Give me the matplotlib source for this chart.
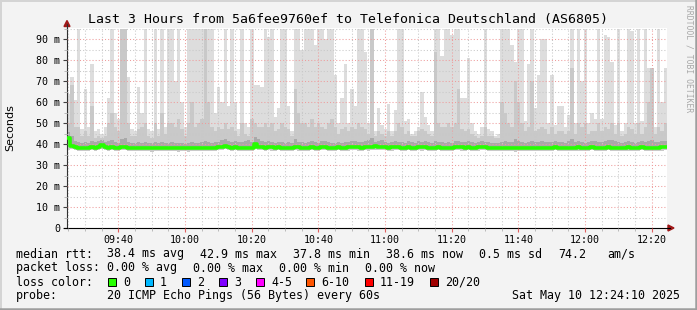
import matplotlib
matplotlib.use('Agg')
import matplotlib.pyplot as plt
from matplotlib.lines import Line2D
from matplotlib.patches import Rectangle, Polygon
import numpy as np

W, H = 697, 310
BG = '#f3f3f3'
MONO = 'DejaVu Sans Mono'

# first sample starts at 09:24.6 (minutes after 09:00), one sample per minute
start_min = 24.6

ping_max = [
    64, 72, 61, 95, 47, 66, 48, 78, 46, 47,
    45, 48, 62, 95, 55, 52, 95, 95, 72, 47,
    46, 67, 55, 95, 47, 46, 95, 47, 95, 48,
    95, 95, 70, 95, 60, 48, 95, 95, 95, 95,
    95, 95, 95, 95, 55, 67, 60, 95, 58, 95,
    60, 47, 95, 50, 48, 95, 68, 68, 67, 95,
    91, 95, 53, 57, 95, 95, 58, 46, 95, 95,
    85, 95, 95, 95, 87, 95, 95, 90, 95, 95,
    73, 50, 62, 78, 50, 66, 58, 95, 95, 84,
    50, 95, 46, 57, 49, 47, 59, 46, 56, 95,
    95, 51, 52, 45, 46, 48, 65, 53, 49, 46,
    95, 95, 82, 95, 95, 92, 95, 95, 62, 62,
    81, 50, 46, 45, 48, 95, 47, 46, 44, 45,
    95, 95, 95, 87, 79, 95, 95, 51, 78, 95,
    57, 73, 90, 90, 50, 73, 49, 58, 58, 48,
    54, 95, 50, 95, 70, 95, 50, 55, 52, 95,
    52, 92, 91, 79, 49, 95, 46, 50, 95, 94,
    50, 95, 51, 95, 76, 76, 48, 95, 60, 76,
]

ping_p90 = [
    50, 68, 48, 48, 44, 46, 44, 58, 43, 44,
    43, 44, 50, 55, 48, 46, 95, 95, 50, 44,
    44, 47, 48, 50, 44, 43, 50, 44, 55, 45,
    50, 50, 48, 52, 47, 44, 50, 60, 48, 50,
    52, 95, 60, 48, 46, 48, 47, 50, 47, 48,
    46, 44, 50, 45, 44, 52, 50, 48, 48, 50,
    48, 50, 46, 47, 50, 48, 47, 44, 66, 55,
    50, 50, 48, 52, 48, 50, 48, 47, 50, 52,
    48, 45, 47, 48, 46, 48, 47, 50, 48, 47,
    45, 95, 44, 46, 45, 44, 46, 44, 46, 50,
    48, 45, 46, 44, 44, 46, 47, 46, 45, 44,
    84, 50, 48, 48, 50, 48, 50, 66, 47, 46,
    47, 45, 44, 43, 44, 48, 44, 44, 43, 43,
    60, 55, 50, 48, 70, 60, 50, 46, 48, 70,
    46, 47, 48, 47, 45, 48, 45, 46, 46, 45,
    46, 76, 45, 50, 48, 50, 45, 46, 46, 50,
    46, 48, 47, 50, 45, 50, 44, 45, 48, 47,
    45, 50, 45, 48, 60, 76, 45, 48, 46, 50,
]

ping_q3 = [
    45.5, 44.0, 41.5, 41.0, 40.5, 41.0, 40.5, 41.5, 41.0, 41.5,
    42.0, 41.0, 41.5, 42.0, 41.0, 40.5, 42.5, 43.0, 41.0, 40.5,
    40.5, 41.0, 40.5, 41.0, 40.5, 40.5, 41.0, 40.5, 41.0, 40.5,
    40.5, 41.0, 40.5, 40.5, 40.5, 40.0, 40.5, 41.0, 40.5, 40.5,
    41.0, 41.5, 41.0, 40.5, 41.0, 41.0, 42.0, 42.5, 41.5, 41.0,
    41.5, 41.0, 41.0, 41.5, 42.0, 41.0, 43.5, 42.5, 41.5, 41.0,
    41.5, 41.0, 40.5, 41.0, 41.0, 40.5, 41.0, 40.5, 42.5, 41.0,
    41.0, 40.5, 41.0, 41.5, 41.0, 40.5, 41.5, 41.5, 41.0, 40.5,
    40.5, 41.0, 40.5, 41.0, 41.0, 41.5, 41.5, 41.0, 41.0, 41.5,
    42.0, 43.0, 41.0, 41.5, 42.0, 41.0, 40.5, 41.0, 41.5, 41.0,
    41.0, 40.5, 41.5, 41.0, 40.5, 41.5, 41.0, 41.5, 41.0, 40.5,
    41.5, 41.0, 41.0, 40.5, 41.0, 40.5, 41.5, 41.5, 41.0, 41.0,
    41.5, 41.0, 40.5, 41.0, 41.5, 41.0, 41.0, 40.5, 40.5, 40.5,
    41.0, 41.5, 41.0, 41.0, 42.5, 41.5, 41.0, 40.5, 41.0, 41.5,
    41.0, 41.0, 41.5, 41.0, 41.0, 41.0, 41.5, 41.0, 41.0, 40.5,
    41.5, 42.5, 41.0, 41.5, 41.0, 40.5, 41.0, 41.5, 41.5, 41.0,
    41.0, 41.5, 42.0, 42.0, 41.5, 41.0, 40.5, 41.0, 41.5, 41.0,
    40.5, 41.0, 41.5, 41.0, 41.5, 42.0, 41.0, 41.0, 41.5, 41.5,
]

ping_min = [
    37.2, 37.4, 37.0, 36.8, 36.6, 36.5, 36.7, 37.0, 36.8, 37.1,
    37.5, 37.0, 36.9, 37.1, 36.7, 36.8, 37.2, 37.0, 36.7, 36.6,
    36.8, 36.5, 36.6, 36.7, 36.6, 36.4, 36.5, 36.6, 36.8, 36.6,
    36.5, 36.6, 36.5, 36.4, 36.5, 36.5, 36.4, 36.5, 36.5, 36.6,
    36.5, 36.6, 36.8, 36.6, 36.8, 37.0, 37.1, 37.4, 37.2, 36.8,
    37.0, 36.7, 36.8, 36.6, 36.7, 36.6, 37.4, 37.2, 37.0, 36.8,
    37.1, 36.9, 36.7, 37.0, 36.8, 36.8, 36.6, 36.6, 37.0, 36.9,
    36.7, 36.5, 36.8, 37.0, 36.8, 36.6, 37.0, 37.1, 36.8, 36.5,
    36.7, 37.0, 36.8, 36.7, 36.9, 37.1, 37.2, 36.9, 36.8, 37.0,
    36.9, 37.2, 37.3, 37.1, 37.2, 37.0, 36.8, 36.9, 37.2, 37.1,
    36.7, 36.8, 37.0, 36.8, 36.7, 37.2, 36.9, 37.1, 36.8, 36.6,
    36.8, 37.0, 36.8, 36.5, 36.7, 36.6, 37.0, 37.2, 36.9, 36.8,
    37.0, 36.8, 36.6, 36.9, 37.2, 37.0, 36.7, 36.8, 36.5, 36.6,
    36.5, 36.6, 36.5, 36.5, 36.4, 36.5, 36.6, 36.5, 36.7, 36.6,
    36.8, 36.6, 36.5, 36.7, 36.6, 36.8, 37.0, 36.8, 36.7, 36.5,
    36.8, 36.7, 36.5, 36.9, 36.7, 36.6, 36.8, 37.0, 36.7, 36.6,
    36.5, 36.8, 37.0, 36.7, 36.8, 36.6, 36.5, 36.7, 36.9, 36.6,
    36.5, 36.7, 37.0, 36.8, 36.6, 36.8, 36.5, 36.7, 36.9, 37.1,
]

median_rtt = [
    42.9, 39.0, 38.6, 38.3, 38.0, 37.9, 38.1, 38.4, 38.2, 38.6,
    39.3, 38.5, 38.3, 38.6, 38.2, 38.3, 38.7, 38.5, 38.2, 38.1,
    38.3, 38.0, 38.0, 38.2, 38.1, 37.9, 37.9, 38.0, 38.3, 38.1,
    37.9, 38.0, 37.9, 37.9, 37.9, 37.9, 37.9, 37.9, 37.9, 37.9,
    37.9, 38.0, 38.3, 38.0, 38.3, 38.5, 38.7, 39.2, 38.8, 38.3,
    38.5, 38.1, 38.2, 38.0, 38.2, 38.1, 40.2, 38.8, 38.5, 38.3,
    38.7, 38.4, 38.2, 38.5, 38.3, 38.3, 38.1, 38.1, 38.6, 38.4,
    38.2, 38.0, 38.3, 38.5, 38.3, 38.1, 38.5, 38.6, 38.3, 38.0,
    38.2, 38.5, 38.3, 38.2, 38.4, 38.6, 38.8, 38.4, 38.3, 38.5,
    38.4, 38.7, 38.9, 38.6, 38.8, 38.5, 38.3, 38.4, 38.8, 38.6,
    38.2, 38.3, 38.5, 38.3, 38.2, 38.8, 38.4, 38.6, 38.3, 38.1,
    38.3, 38.5, 38.3, 38.0, 38.2, 38.1, 38.5, 38.7, 38.4, 38.3,
    38.5, 38.3, 38.1, 38.4, 38.7, 38.5, 38.2, 38.3, 38.0, 38.1,
    38.0, 38.1, 38.0, 38.0, 37.9, 38.0, 38.1, 38.0, 38.2, 38.1,
    38.3, 38.1, 38.0, 38.2, 38.1, 38.3, 38.5, 38.3, 38.2, 38.0,
    38.3, 38.2, 38.0, 38.4, 38.2, 38.1, 38.3, 38.5, 38.2, 38.1,
    38.0, 38.3, 38.5, 38.2, 38.3, 38.1, 38.0, 38.2, 38.4, 38.1,
    38.0, 38.2, 38.5, 38.3, 38.1, 38.3, 38.0, 38.2, 38.4, 38.6,
]

xtick_pos = [40, 60, 80, 100, 120, 140, 160, 180, 200]
xtick_labels = ['09:40', '10:00', '10:20', '10:40', '11:00', '11:20', '11:40', '12:00', '12:20']
ytick_pos = [0, 10, 20, 30, 40, 50, 60, 70, 80, 90]
ytick_labels = ['0', '10 m', '20 m', '30 m', '40 m', '50 m', '60 m', '70 m', '80 m', '90 m']

loss_labels = ['0', '1', '2', '3', '4-5', '6-10', '11-19', '20/20']
loss_colors = ['#26ff00', '#00b8ff', '#0059ff', '#7e00ff', '#ff00ff', '#ff5500', '#ff0000', '#a00000']
loss_x = [108, 145, 182, 219, 256, 306, 365, 430]


def fx(px):
    return px / W


def fy(py):
    return 1 - py / H


fig = plt.figure(figsize=(W / 100, H / 100), dpi=100)
fig.patch.set_facecolor(BG)

ax = fig.add_axes([fx(67), fy(228), 600 / W, 200 / H])
ax.set_facecolor('white')

x = start_min + np.arange(len(ping_max))
pmin = np.array(ping_min)
med = np.array(median_rtt)

ax.bar(x, np.array(ping_max) - pmin, bottom=pmin, width=1.0, align='edge',
       color='#dddddd', linewidth=0, zorder=1)
ax.bar(x, np.array(ping_p90) - pmin, bottom=pmin, width=1.0, align='edge',
       color='#c9c9c9', linewidth=0, zorder=1.1)
ax.bar(x, np.array(ping_q3) - med, bottom=med, width=1.0, align='edge',
       color='#a9a9a9', linewidth=0, zorder=1.2)

xs = np.append(x, x[-1] + 1)
ys = np.append(med, med[-1])
ax.step(xs, ys, where='post', color='#26ff00', lw=2.6, zorder=5, solid_capstyle='butt')

ax.set_xlim(start_min, start_min + 180)
ax.set_ylim(0, 200 / 2.1)

ax.set_xticks(xtick_pos)
ax.set_xticklabels(xtick_labels, family=MONO, fontsize=7.2)
ax.set_xticks(np.arange(25, 205, 5), minor=True)
ax.set_yticks(ytick_pos)
ax.set_yticklabels(ytick_labels, family=MONO, fontsize=7.2)
ax.set_yticks(np.arange(5, 96, 10), minor=True)

ax.set_axisbelow(False)
ax.grid(which='minor', color='#c8c8c8', linestyle=(0, (1, 2)), lw=0.75)
ax.grid(which='major', color='#ee9c9c', linestyle=(0, (1, 2)), lw=0.75)

ax.tick_params(axis='x', which='major', length=3, color='#e06060', pad=2)
ax.tick_params(axis='x', which='minor', length=2, color='#b0b0b0')
ax.tick_params(axis='y', which='major', length=3, color='#404040', pad=2)
ax.tick_params(axis='y', which='minor', length=2, color='#b0b0b0')

for s in ['top', 'right']:
    ax.spines[s].set_visible(False)
ax.spines['left'].set_color('#303030')
ax.spines['bottom'].set_color('#000000')
ax.spines['left'].set_linewidth(0.8)
ax.spines['bottom'].set_linewidth(0.8)

# axis extensions and arrows
fig.add_artist(Line2D([fx(67), fx(67)], [fy(28), fy(24)], color='#303030', lw=0.8))
fig.add_artist(Line2D([fx(64), fx(67)], [fy(228), fy(228)], color='#000000', lw=0.8))
fig.add_artist(Line2D([fx(667), fx(670)], [fy(228), fy(228)], color='#000000', lw=0.8))
fig.add_artist(Polygon([[fx(64), fy(26.5)], [fx(70), fy(26.5)], [fx(67), fy(20.5)]],
                       closed=True, color='#a01818', transform=fig.transFigure))
fig.add_artist(Polygon([[fx(668), fy(225)], [fx(668), fy(231)], [fx(674), fy(228)]],
                       closed=True, color='#a01818', transform=fig.transFigure))

# titles
fig.text(fx(348), fy(19), 'Last 3 Hours from 5a6fee9760ef to Telefonica Deutschland (AS6805)',
         family=MONO, fontsize=9.5, ha='center', va='center', color='#000000')
fig.text(fx(10), fy(128), 'Seconds', family='DejaVu Sans', fontsize=8,
         rotation=90, ha='center', va='center')
fig.text(fx(689), fy(5), 'RRDTOOL / TOBI OETIKER', family=MONO, fontsize=5.8,
         rotation=270, ha='center', va='top', color='#a8a8a8')

LEG = dict(family=MONO, fontsize=8.4, va='center', color='#000000')

row1 = [(16, 'median rtt:'), (107, '38.4 ms avg'), (200, '42.9 ms max'), (293, '37.8 ms min'),
        (386, '38.6 ms now'), (479, '0.5 ms sd'), (558, '74.2'), (607, 'am/s')]
for px, t in row1:
    fig.text(fx(px), fy(254), t, **LEG)

row2 = [(16, 'packet loss:'), (107, '0.00 % avg'), (193, '0.00 % max'),
        (279, '0.00 % min'), (365, '0.00 % now')]
for px, t in row2:
    fig.text(fx(px), fy(268), t, **LEG)

fig.text(fx(16), fy(282), 'loss color:', **LEG)
for px, lab, col in zip(loss_x, loss_labels, loss_colors):
    fig.add_artist(Rectangle((fx(px), fy(286)), 8 / W, 8 / H, transform=fig.transFigure,
                             facecolor=col, edgecolor='#000000', lw=0.7))
    fig.text(fx(px + 15), fy(282), lab, **LEG)

fig.text(fx(16), fy(296), 'probe:', **LEG)
fig.text(fx(107), fy(296), '20 ICMP Echo Pings (56 Bytes) every 60s', **LEG)
fig.text(fx(680), fy(296), 'Sat May 10 12:24:10 2025', ha='right',
         **{k: v for k, v in LEG.items()})

# canvas frame
fig.add_artist(Line2D([0, 1], [fy(0.5), fy(0.5)], color='#d4d4d4', lw=1.4))
fig.add_artist(Line2D([fx(0.5), fx(0.5)], [0, 1], color='#d4d4d4', lw=1.4))
fig.add_artist(Line2D([0, 1], [fy(308.8), fy(308.8)], color='#9e9e9e', lw=1.8))
fig.add_artist(Line2D([fx(695.8), fx(695.8)], [0, 1], color='#9e9e9e', lw=1.8))

fig.savefig('out.png', dpi=100, facecolor=BG)
